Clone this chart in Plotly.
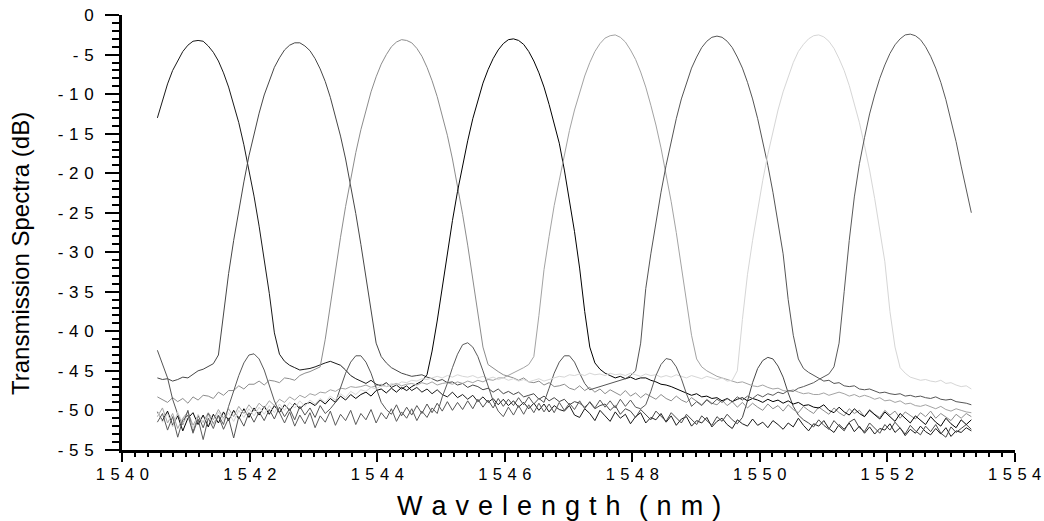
import numpy as np
import plotly.graph_objects as go

# Wavelength sampling of the measured spectra (nm)
WL_START = 1540.55
WL_END = 1553.32
N_SAMPLES = 161

# Transmission spectra (dB) of the 8 channels
CH1 = [-13.0, -10.9, -8.7, -7.0, -5.7, -4.6, -3.8, -3.3, -3.2, -3.3,
       -3.9, -4.7, -5.8, -7.3, -9.1, -11.2, -13.6, -16.4, -19.5, -22.9,
       -26.7, -30.8, -35.2, -40.2, -42.9, -43.8, -44.3, -44.6, -44.9, -44.8,
       -44.7, -44.5, -44.2, -44.0, -43.8, -44.0, -44.3, -44.9, -45.6, -46.0,
       -46.3, -46.6, -46.2, -46.7, -46.9, -46.5, -47.1, -46.8, -47.3, -46.9,
       -47.5, -47.1, -47.7, -47.3, -47.9, -47.4, -48.0, -48.3, -47.7, -48.4,
       -48.0, -48.6, -48.1, -48.9, -48.3, -49.0, -48.5, -49.3, -48.6, -49.4,
       -48.8, -49.6, -49.0, -49.8, -49.1, -50.0, -49.2, -50.2, -49.4, -49.9,
       -50.1, -49.4, -50.6, -50.9, -49.8, -50.4, -51.3, -50.0, -50.7, -51.4,
       -50.2, -51.0, -50.5, -51.7, -50.8, -50.3, -51.6, -50.9, -51.2, -50.4,
       -51.5, -50.7, -51.9, -51.1, -50.8, -52.0, -51.3, -51.6, -50.9, -52.1,
       -51.4, -51.0, -51.8, -52.3, -51.2, -51.7, -52.0, -51.1, -51.9, -51.5,
       -52.2, -51.3, -51.8, -52.4, -51.6, -52.1, -51.0, -51.9, -52.6, -51.7,
       -52.0, -51.3, -52.3, -52.8, -51.8, -52.4, -51.6, -52.7, -52.0, -52.9,
       -52.1, -53.0, -52.3, -52.5, -51.7, -52.8, -52.2, -53.2, -52.4, -52.9,
       -52.0, -52.7, -53.1, -52.3, -53.0, -52.2, -53.3, -52.6, -52.8, -52.2,
       -52.6]

CH2 = [-45.9, -46.1, -46.0, -46.3, -46.1, -45.8, -45.9, -45.4, -45.0, -44.8,
       -44.5, -44.1, -43.0, -38.0, -32.7, -28.5, -24.6, -21.1, -17.8, -14.9,
       -12.4, -10.1, -8.2, -6.6, -5.4, -4.4, -3.8, -3.5, -3.5, -3.9,
       -4.5, -5.5, -6.8, -8.4, -10.4, -12.7, -15.3, -18.2, -21.5, -25.1,
       -29.0, -33.2, -37.8, -41.5, -43.2, -44.0, -44.6, -45.0, -45.3, -45.5,
       -45.7, -45.6, -45.5, -45.8, -46.0, -46.3, -46.1, -46.5, -46.4, -46.8,
       -46.6, -47.1, -46.8, -47.0, -47.4, -47.2, -47.7, -47.3, -47.9, -47.6,
       -48.0, -47.7, -48.3, -48.1, -47.9, -48.6, -48.2, -48.8, -48.4, -48.9,
       -48.6, -49.3, -48.9, -49.1, -49.6, -49.0, -49.8, -49.4, -49.2, -50.0,
       -49.4, -50.5, -49.8, -50.1, -50.9, -49.9, -50.6, -51.2, -50.1, -50.7,
       -51.4, -50.3, -50.9, -51.6, -50.5, -51.1, -51.8, -50.7, -51.3, -51.9,
       -50.8, -51.4, -50.5, -51.2, -51.7, -50.9, -48.8, -46.5, -44.7, -43.7,
       -43.3, -43.5, -44.4, -45.8, -47.8, -49.5, -50.6, -51.2, -51.6, -52.1,
       -51.2, -51.9, -52.4, -51.3, -52.0, -52.6, -51.5, -51.1, -52.2, -52.7,
       -51.6, -52.3, -52.9, -51.8, -52.5, -51.5, -52.3, -53.0, -51.9, -52.6,
       -53.1, -52.0, -52.7, -51.8, -52.9, -53.4, -52.1, -52.8, -52.3, -51.8,
       -52.4]

CH3 = [-48.3, -48.7, -49.0, -48.4, -48.9, -48.5, -49.1, -48.3, -48.7, -48.1,
       -48.2, -48.5, -47.7, -48.1, -47.5, -47.5, -46.9, -47.3, -46.7, -46.7,
       -46.3, -46.8, -46.2, -46.3, -46.5, -45.9, -46.0, -46.2, -45.6, -45.3,
       -45.1, -44.8, -44.5, -41.0, -36.5, -32.3, -28.1, -24.2, -20.7, -17.4,
       -14.5, -12.0, -9.7, -7.8, -6.2, -5.0, -4.0, -3.4, -3.1, -3.2,
       -3.5, -4.2, -5.2, -6.6, -8.3, -10.3, -12.6, -15.2, -18.2, -21.5,
       -25.2, -29.1, -33.4, -38.0, -42.0, -44.2, -44.7, -45.1, -45.5, -45.7,
       -45.9, -46.2, -45.9, -46.4, -46.5, -46.3, -46.8, -46.5, -47.0, -46.9,
       -46.7, -47.2, -47.4, -46.9, -47.5, -47.1, -47.7, -47.3, -47.9, -47.4,
       -47.8, -48.1, -47.5, -48.2, -47.8, -48.4, -47.9, -48.3, -48.6, -48.0,
       -48.5, -48.8, -48.2, -48.7, -49.0, -48.4, -48.9, -49.3, -48.6, -49.1,
       -49.3, -48.7, -49.4, -48.9, -49.6, -49.0, -49.7, -49.1, -49.6, -50.0,
       -49.2, -49.8, -49.4, -50.1, -49.3, -49.9, -50.3, -49.5, -50.0, -50.4,
       -49.6, -50.1, -50.5, -49.7, -50.3, -50.7, -49.8, -50.4, -50.0, -50.8,
       -49.9, -50.5, -50.9, -50.0, -50.6, -50.1, -51.0, -50.2, -50.7, -51.1,
       -50.3, -50.8, -50.1, -51.0, -50.4, -50.9, -51.3, -50.5, -51.0, -50.4,
       -50.8]

CH4 = [-50.2, -51.3, -50.1, -51.9, -50.7, -52.6, -51.0, -50.3, -51.8, -50.6,
       -52.1, -50.5, -51.6, -50.2, -51.3, -50.0, -51.1, -49.8, -50.9, -49.7,
       -50.6, -49.5, -50.5, -49.4, -50.3, -49.3, -50.0, -49.1, -49.8, -49.2,
       -49.0, -49.4, -48.7, -49.2, -48.5, -49.0, -48.2, -48.7, -48.0, -48.5,
       -48.0, -47.7, -48.2, -47.5, -47.3, -47.8, -47.2, -47.7, -47.1, -47.5,
       -47.0, -46.6, -46.3, -45.5, -42.5, -38.7, -34.4, -30.1, -26.0, -22.3,
       -18.9, -15.9, -13.1, -10.7, -8.6, -6.9, -5.5, -4.4, -3.6, -3.1,
       -3.0, -3.2, -3.7, -4.6, -5.8, -7.3, -9.1, -11.3, -13.8, -16.2,
       -19.6, -23.3, -27.4, -32.0, -37.5, -42.0, -44.0, -44.8, -45.3, -45.6,
       -45.9, -45.7, -46.0, -45.8, -46.1, -45.9, -45.9, -46.2, -46.4, -46.7,
       -46.8, -47.0, -47.3, -47.6, -47.9, -48.1, -47.9, -48.3, -48.2, -48.5,
       -48.4, -48.8, -48.5, -48.9, -48.6, -48.4, -48.8, -48.5, -48.7, -49.0,
       -48.6, -48.9, -48.7, -49.1, -48.8, -49.2, -49.0, -49.4, -49.3, -49.6,
       -49.7, -49.3, -50.0, -50.3, -49.6, -50.2, -50.6, -49.8, -50.4, -50.8,
       -50.0, -50.6, -51.1, -50.2, -50.8, -51.4, -50.4, -51.0, -51.6, -50.7,
       -51.3, -51.8, -50.8, -51.5, -52.0, -51.0, -51.7, -52.2, -51.2, -51.8,
       -51.2]

CH5 = [-50.8, -49.7, -51.6, -50.4, -52.3, -51.0, -50.2, -51.9, -50.7, -51.5,
       -50.3, -51.2, -49.9, -51.0, -49.8, -50.8, -49.5, -50.4, -49.3, -50.1,
       -49.1, -49.7, -48.8, -49.4, -48.6, -49.0, -48.3, -48.7, -48.1, -48.4,
       -47.9, -48.1, -47.7, -47.8, -47.4, -47.6, -47.2, -47.3, -47.0, -47.1,
       -47.0, -46.8, -47.1, -46.9, -46.7, -47.0, -46.8, -46.6, -46.9, -46.7,
       -46.6, -46.8, -46.5, -46.7, -46.4, -46.8, -46.6, -46.5, -46.7, -46.4,
       -46.6, -46.3, -46.5, -46.2, -46.4, -46.1, -46.2, -45.9, -45.9, -45.6,
       -45.3, -45.0, -44.6, -44.2, -43.2, -38.0, -32.2, -28.0, -24.1, -20.9,
       -17.6, -14.6, -12.0, -9.7, -7.7, -6.0, -4.6, -3.6, -2.9, -2.6,
       -2.5, -2.8, -3.4, -4.4, -5.6, -7.2, -9.1, -11.4, -13.9, -16.8,
       -20.1, -23.6, -27.5, -31.7, -36.2, -40.5, -43.5, -44.5, -45.0, -45.4,
       -45.7, -45.9, -46.1, -46.3, -46.5, -46.4, -46.7, -46.9, -47.0, -46.8,
       -47.1, -47.3, -47.2, -47.5, -47.6, -47.4, -47.7, -47.9, -47.8, -48.0,
       -48.0, -47.8, -48.1, -47.9, -47.7, -47.9, -48.2, -48.0, -48.3, -48.1,
       -48.3, -48.6, -48.4, -48.8, -48.7, -49.0, -48.8, -49.2, -49.1, -49.4,
       -49.5, -49.3, -49.6, -49.8, -49.5, -49.9, -50.1, -49.8, -50.0, -50.2,
       -50.3]

CH6 = [-42.4, -44.1, -45.9, -48.6, -50.5, -51.8, -50.0, -52.7, -50.6, -52.2,
       -50.4, -51.7, -50.7, -52.4, -51.0, -53.5, -50.8, -52.0, -50.3, -51.5,
       -50.2, -51.3, -49.9, -51.1, -49.6, -50.8, -49.8, -51.2, -49.5, -50.6,
       -49.7, -50.9, -49.4, -50.4, -49.8, -49.0, -47.2, -45.3, -43.9, -43.1,
       -43.1, -43.9, -45.3, -47.2, -49.0, -49.9, -50.5, -49.3, -50.7, -49.6,
       -50.6, -49.4, -50.4, -49.2, -50.3, -49.1, -50.1, -48.9, -50.0, -49.0,
       -49.9, -48.8, -49.8, -48.6, -49.6, -48.7, -49.7, -48.5, -49.5, -48.6,
       -49.4, -48.4, -49.3, -48.3, -49.2, -48.5, -49.0, -47.2, -45.3, -43.9,
       -43.1, -43.1, -43.9, -45.3, -46.6, -47.4, -47.2, -47.0, -46.8, -46.6,
       -46.4, -46.2, -46.0, -45.6, -45.0, -41.5, -34.6, -30.2, -26.1, -22.4,
       -19.0, -15.9, -13.1, -10.6, -8.5, -6.7, -5.3, -4.1, -3.3, -2.8,
       -2.65, -2.8, -3.3, -4.1, -5.3, -6.7, -8.5, -10.6, -13.1, -15.9,
       -19.0, -22.4, -26.1, -30.2, -36.0, -40.5, -43.5, -44.7, -45.2, -45.6,
       -46.0, -46.3, -46.2, -46.6, -46.5, -46.9, -47.0, -46.9, -47.3, -47.4,
       -47.3, -47.6, -47.8, -47.7, -47.9, -48.0, -47.9, -48.2, -48.1, -48.3,
       -48.2, -48.4, -48.5, -48.3, -48.6, -48.7, -48.6, -48.9, -49.0, -49.1,
       -49.3]

CH7 = [-50.1, -51.5, -50.4, -52.1, -50.2, -51.7, -50.7, -52.4, -50.5, -51.6,
       -50.6, -51.9, -50.2, -51.3, -50.3, -51.4, -50.0, -50.9, -49.8, -50.7,
       -49.6, -50.5, -49.4, -50.3, -49.2, -50.0, -49.0, -49.7, -48.8, -49.5,
       -48.7, -49.2, -48.5, -49.0, -48.2, -48.7, -47.9, -48.4, -47.6, -48.0,
       -47.4, -47.6, -47.1, -47.3, -46.9, -47.0, -46.6, -46.8, -46.4, -46.5,
       -46.2, -46.3, -46.0, -46.1, -45.9, -45.7, -45.9, -45.6, -45.8, -45.5,
       -45.7, -45.8, -45.6, -45.9, -45.7, -46.0, -45.8, -46.1, -45.9, -46.2,
       -46.0, -46.3, -46.1, -46.4, -46.2, -46.0, -46.3, -46.1, -45.9, -45.7,
       -45.8, -45.5, -45.6, -45.4, -45.6, -45.3, -45.5, -45.4, -45.6, -45.3,
       -45.5, -45.4, -45.6, -45.3, -45.5, -45.7, -45.4, -45.6, -45.5, -45.8,
       -45.6, -45.8, -45.5, -45.7, -45.9, -45.6, -45.8, -46.0, -45.7, -45.9,
       -46.1, -45.9, -46.3, -46.2, -45.0, -38.5, -32.8, -28.5, -24.6, -20.9,
       -17.6, -14.6, -12.0, -9.7, -7.7, -6.0, -4.6, -3.7, -3.0, -2.6,
       -2.5, -2.75, -3.3, -4.2, -5.5, -7.0, -8.9, -11.1, -13.6, -16.5,
       -19.6, -23.2, -27.0, -31.2, -37.5, -42.0, -44.6, -45.3, -45.8, -46.0,
       -46.2, -46.1, -46.3, -46.4, -46.2, -46.6, -46.5, -46.8, -47.0, -46.9,
       -47.3]

CH8 = [-51.5, -50.4, -52.5, -50.8, -53.4, -51.2, -50.6, -52.9, -51.1, -53.7,
       -51.0, -52.3, -50.6, -51.8, -49.5, -47.6, -45.6, -44.0, -43.0, -42.85,
       -43.5, -44.9, -46.8, -48.8, -50.3, -51.6, -50.2, -52.0, -50.6, -51.7,
       -50.3, -52.2, -50.7, -51.5, -50.1, -51.9, -50.5, -51.3, -50.0, -51.8,
       -50.4, -51.2, -49.9, -51.6, -50.3, -51.1, -49.8, -51.4, -50.2, -51.0,
       -49.8, -51.3, -50.1, -50.9, -49.7, -50.4, -48.3, -46.6, -44.6, -42.9,
       -41.7, -41.45, -42.0, -43.2, -45.0, -47.0, -48.8, -50.1, -50.8, -49.6,
       -50.6, -49.4, -50.5, -49.3, -50.3, -49.1, -50.2, -49.2, -50.3, -49.0,
       -50.0, -49.1, -49.9, -48.8, -49.8, -48.9, -49.7, -48.7, -49.6, -48.8,
       -49.7, -48.6, -49.5, -48.7, -49.6, -49.8, -49.3, -47.6, -45.6, -44.2,
       -43.45, -43.6, -44.5, -46.0, -47.9, -49.5, -48.9, -49.4, -48.7, -49.2,
       -48.6, -49.0, -48.5, -48.9, -48.3, -48.7, -48.2, -48.5, -48.0, -48.3,
       -47.9, -48.1, -47.7, -47.9, -47.5, -47.6, -47.2, -47.0, -46.8, -46.5,
       -46.1, -45.8, -45.4, -44.5, -41.5, -35.0, -28.5, -23.0, -18.8, -15.5,
       -12.5, -10.1, -8.0, -6.3, -4.85, -3.75, -3.0, -2.5, -2.4, -2.6,
       -3.1, -4.0, -5.2, -6.7, -8.5, -10.7, -13.2, -16.0, -19.1, -22.0,
       -25.0]

CHANNELS = [CH1, CH2, CH3, CH4, CH5, CH6, CH7, CH8]
CHANNEL_NAMES = ["Ch 1", "Ch 2", "Ch 3", "Ch 4", "Ch 5", "Ch 6", "Ch 7", "Ch 8"]
CHANNEL_COLORS = ["#1a1a1a", "#474747", "#8c8c8c", "#000000",
                  "#a3a3a3", "#555555", "#d6d6d6", "#5a5a5a"]

X_TICK_VALUES = [1540, 1542, 1544, 1546, 1548, 1550, 1552, 1554]
Y_TICK_VALUES = [0, -5, -10, -15, -20, -25, -30, -35, -40, -45, -50, -55]

SEP = "\u2004"


def spaced(s, sep=SEP):
    return sep.join(list(s))


X_TICK_TEXT = [spaced(str(v)) for v in X_TICK_VALUES]
Y_TICK_TEXT = [spaced(str(v)) for v in Y_TICK_VALUES]

wavelength = np.linspace(WL_START, WL_END, N_SAMPLES)

fig = go.Figure()
for name, vals, col in zip(CHANNEL_NAMES, CHANNELS, CHANNEL_COLORS):
    if len(vals) != N_SAMPLES:
        raise ValueError(f"{name} has {len(vals)} values")
    fig.add_trace(go.Scatter(x=wavelength, y=vals, mode="lines", name=name,
                             line=dict(color=col, width=1)))

FONT = "Liberation Sans, Arial, Helvetica, sans-serif"

fig.update_layout(
    width=1044, height=521,
    margin=dict(l=122, r=29, t=15, b=71, autoexpand=False),
    paper_bgcolor="white", plot_bgcolor="white",
    showlegend=False,
    font=dict(family=FONT, color="black"),
)

fig.update_xaxes(
    range=[1539.995, 1554.005], automargin=False,
    tickmode="array", tickvals=X_TICK_VALUES, ticktext=X_TICK_TEXT,
    ticks="outside", ticklen=9, tickwidth=2, tickcolor="black",
    tickfont=dict(size=16.5, family=FONT, color="black"),
    ticklabelstandoff=-2, ticklabeloverflow="allow",
    showline=True, linewidth=3, linecolor="black",
    showgrid=False, zeroline=False,
    minor=dict(tickmode="linear", tick0=1540, dtick=0.2, ticks="outside",
               ticklen=4, tickwidth=2, tickcolor="black", showgrid=False),
)
fig.update_yaxes(
    range=[-55.02, 0.02], automargin=False,
    tickmode="array", tickvals=Y_TICK_VALUES, ticktext=Y_TICK_TEXT,
    ticks="outside", ticklen=14, tickwidth=2, tickcolor="black",
    tickfont=dict(size=17, family=FONT, color="black"),
    ticklabelstandoff=8, ticklabeloverflow="allow",
    showline=True, linewidth=3, linecolor="black",
    showgrid=False, zeroline=False,
    minor=dict(tickmode="linear", tick0=0, dtick=1, ticks="outside",
               ticklen=7, tickwidth=2, tickcolor="black", showgrid=False),
)

X_TITLE = spaced("Wavelength", "\u2004") + "\u2004\u2004" + spaced("(nm)", "\u2004")
Y_TITLE = "Transmission Spectra (dB)"

fig.add_annotation(text=X_TITLE, xref="paper", yref="paper",
                   x=(559 - 122) / 893, y=(450 - 506) / 435,
                   xanchor="center", yanchor="middle", showarrow=False,
                   font=dict(size=27, family=FONT, color="black"))
fig.add_annotation(text=Y_TITLE, xref="paper", yref="paper",
                   x=(20 - 122) / 893, y=(450 - 254) / 435,
                   xanchor="center", yanchor="middle", showarrow=False,
                   textangle=-90,
                   font=dict(size=24, family=FONT, color="black"))

# remove the default 8px page margin so the figure fills the window exactly
fig.write_html("out.html",
               config={"displayModeBar": False},
               post_script="document.body.style.margin='0';"
                           "document.body.style.overflow='hidden';")
